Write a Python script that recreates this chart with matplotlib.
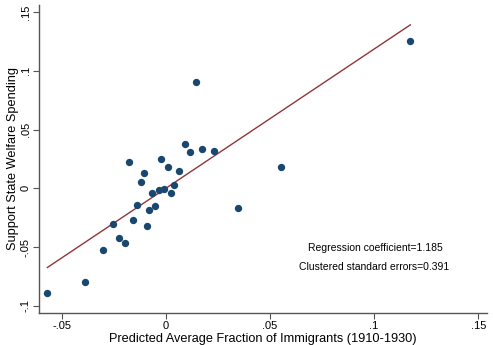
import matplotlib
matplotlib.use("Agg")
import matplotlib.pyplot as plt
import numpy as np

plt.rcParams['font.family'] = ['Liberation Sans', 'DejaVu Sans']

x_vals = [-0.0568, -0.0389, -0.0301, -0.0254, -0.0223, -0.0197, -0.0176, -0.0155,
          -0.0136, -0.0120, -0.0104, -0.0091, -0.0079, -0.0064, -0.0050, -0.0034,
          -0.0021, -0.0007, 0.0010, 0.0024, 0.0040, 0.0065, 0.0091, 0.0117,
          0.0144, 0.0176, 0.0232, 0.0345, 0.0552, 0.1174]
y_vals = [-0.0893, -0.0797, -0.0522, -0.0306, -0.0425, -0.0463, 0.0224, -0.0267,
          -0.0142, 0.0054, 0.0128, -0.0321, -0.0187, -0.0043, -0.0150, -0.0012,
          0.0249, -0.0006, 0.0184, -0.0043, 0.0031, 0.0150, 0.0374, 0.0311,
          0.0904, 0.0332, 0.0315, -0.0170, 0.0184, 0.1250]
slope = 1.185
intercept = 0.0
x_ticks = [-0.05, 0, 0.05, 0.1, 0.15]
x_tick_labels = ['-.05', '0', '.05', '.1', '.15']
y_ticks = [-0.1, -0.05, 0, 0.05, 0.1, 0.15]
y_tick_labels = ['-.1', '-.05', '0', '.05', '.1', '.15']

fig = plt.figure(figsize=(4.94, 3.45), dpi=100)
ax = fig.add_axes([0.079, 0.0928, 0.906, 0.8927])

ax.scatter(x_vals, y_vals, s=28, color='#1a476f', zorder=3, linewidths=0)
xl = np.array([min(x_vals), max(x_vals)])
ax.plot(xl, intercept + slope * xl, color='#90353b', lw=1.0, zorder=2)

ax.set_xlim(-0.0608, 0.154)
ax.set_ylim(-0.106, 0.156)
ax.set_xticks(x_ticks)
ax.set_xticklabels(x_tick_labels, fontsize=8)
ax.set_yticks(y_ticks)
ax.set_yticklabels(y_tick_labels, fontsize=8, rotation=90, va='center')
for s in ['top', 'right']:
    ax.spines[s].set_visible(False)
for s in ['left', 'bottom']:
    ax.spines[s].set_color('#555555')
    ax.spines[s].set_linewidth(1.0)
ax.tick_params(direction='out', length=4, width=0.8, color='#555555', pad=2)

ax.set_xlabel('Predicted Average Fraction of Immigrants (1910-1930)', fontsize=9.2, labelpad=1.5)
ax.set_ylabel('Support State Welfare Spending', fontsize=9.2, labelpad=1)

ax.text(0.1005, -0.051, 'Regression coefficient=1.185', fontsize=7.5, ha='center', va='center')
ax.text(0.100, -0.067, 'Clustered standard errors=0.391', fontsize=7.5, ha='center', va='center')

fig.savefig('out.png', dpi=100)
